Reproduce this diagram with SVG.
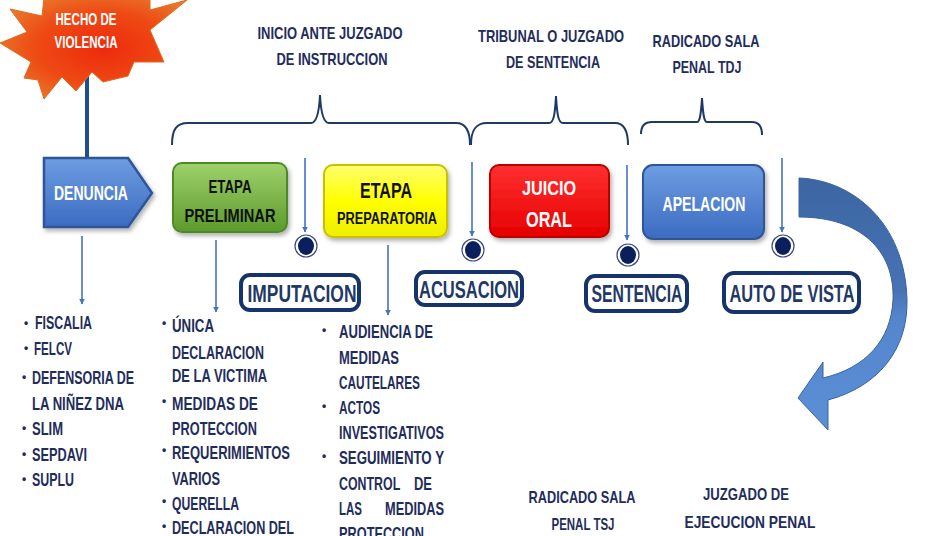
<svg xmlns="http://www.w3.org/2000/svg" width="946" height="536" viewBox="0 0 946 536">
<style>
text{font-family:"Liberation Sans Narrow","Liberation Sans",Arial,sans-serif;font-weight:bold}
.hd{font-size:17px;fill:#1f2d5c}
.li{font-size:18px;fill:#1f2d5c}
.bu{font-size:12px;fill:#1f2d5c}
.wt{fill:#ffffff}
.bk{fill:#111111}
.lb{font-size:24px;fill:#1f3864}
.lbox{fill:#ffffff;stroke:#17336b;stroke-width:4}
.brace{fill:none;stroke:#1f3864;stroke-width:2}
.thin{stroke:#4472c4;stroke-width:1.6;fill:none}
.ring{fill:#ffffff;stroke:#3b4a7a;stroke-width:1.2}
.dot{fill:#0b1f5c}
</style>
<defs>
<radialGradient id="gStar" cx="0.55" cy="0.5" r="0.6">
<stop offset="0" stop-color="#ee2a0c"/><stop offset="0.6" stop-color="#ee4a14"/><stop offset="1" stop-color="#e9782a"/>
</radialGradient>
<linearGradient id="gBlue" x1="0" y1="0" x2="0" y2="1"><stop offset="0" stop-color="#6e9de2"/><stop offset="1" stop-color="#3c6bc0"/></linearGradient>
<linearGradient id="gGreen" x1="0" y1="0" x2="0" y2="1"><stop offset="0" stop-color="#9fd16c"/><stop offset="1" stop-color="#5c9a2c"/></linearGradient>
<linearGradient id="gYellow" x1="0" y1="0" x2="0" y2="1"><stop offset="0" stop-color="#ffff70"/><stop offset="0.5" stop-color="#ffff00"/><stop offset="1" stop-color="#eeee00"/></linearGradient>
<linearGradient id="gRed" x1="0" y1="0" x2="0" y2="1"><stop offset="0" stop-color="#ff3030"/><stop offset="1" stop-color="#e60000"/></linearGradient>
<linearGradient id="gArc" x1="0" y1="0" x2="0" y2="1"><stop offset="0" stop-color="#3c66a2"/><stop offset="0.45" stop-color="#4673b4"/><stop offset="0.55" stop-color="#5486cc"/><stop offset="1" stop-color="#5a8fd6"/></linearGradient>
<filter id="sh" x="-10%" y="-10%" width="130%" height="140%"><feDropShadow dx="2" dy="3" stdDeviation="2" flood-color="#000" flood-opacity="0.3"/></filter>
<marker id="ah" viewBox="0 0 10 10" refX="9" refY="5" markerWidth="6" markerHeight="6" orient="auto" markerUnits="userSpaceOnUse"><path d="M0,0 L10,5 L0,10 z" fill="#4472c4"/></marker>
</defs>

<g id="connectors">
<line x1="87" y1="72" x2="87" y2="158" stroke="#1f4e8c" stroke-width="4"/>
<line class="thin" x1="82" y1="236" x2="82" y2="304" marker-end="url(#ah)"/>
<line class="thin" x1="216" y1="240" x2="216" y2="312" marker-end="url(#ah)"/>
<line class="thin" x1="388" y1="245" x2="388" y2="315" marker-end="url(#ah)"/>
<line class="thin" x1="305" y1="158" x2="305" y2="232" marker-end="url(#ah)"/>
<line class="thin" x1="472" y1="162" x2="472" y2="236" marker-end="url(#ah)"/>
<line class="thin" x1="627" y1="165" x2="627" y2="240" marker-end="url(#ah)"/>
<line class="thin" x1="782" y1="158" x2="782" y2="232" marker-end="url(#ah)"/>
<path class="brace" d="M172,145 C172,130 176,123 188,123 L311,123 C316,123 319,115 320,95 C321,115 324,123 329,123 L456,123 C466,123 470,132 470,145"/>
<path class="brace" d="M471,145 C471,131 475,123 487,123 L549,123 C554,123 555,113 556,96 C557,113 558,123 563,123 L615,123 C624,123 628,131 628,145"/>
<path class="brace" d="M641,134 C641,127 644,122 652,122 L697,122 C700,122 701,114 702,98 C703,114 704,122 707,122 L752,122 C759,122 762,127 762,135"/>
<path d="M799,178 C852,180 905,222 907,300 C908,348 880,386 828,400 L828,430 L798,398 L823,362 L823,378 C866,368 891,340 893,300 C895,250 860,217 799,217 Z" fill="url(#gArc)" stroke="#3a62a0" stroke-width="1"/>
</g>

<g id="dots">
<circle class="ring" cx="306" cy="246" r="11"/><ellipse class="dot" cx="306" cy="246" rx="8" ry="9"/>
<circle class="ring" cx="473" cy="250" r="11"/><ellipse class="dot" cx="473" cy="250" rx="8" ry="9"/>
<circle class="ring" cx="628" cy="255" r="11"/><ellipse class="dot" cx="628" cy="255" rx="8" ry="9"/>
<circle class="ring" cx="783" cy="246" r="11"/><ellipse class="dot" cx="783" cy="246" rx="8" ry="9"/>
</g>

<g id="hecho">
<polygon points="0,43 27,32 10,9 42,16 44,-2 150,-2 150,10 187,0 150,30 164,62 134,62 128,76 103,82 92,72 76,91 62,77 44,99 38,80 24,78 31,62" fill="url(#gStar)" stroke="#e06a20" stroke-width="1"/>
<text class="wt" x="86" y="25" text-anchor="middle" font-size="16.5" textLength="61" lengthAdjust="spacingAndGlyphs">HECHO DE</text>
<text class="wt" x="86" y="48" text-anchor="middle" font-size="16.5" textLength="63" lengthAdjust="spacingAndGlyphs">VIOLENCIA</text>
</g>

<g id="denuncia">
<polygon points="44,158 128,158 152,193 128,227 44,227" fill="url(#gBlue)" stroke="#2f5597" stroke-width="2.5" filter="url(#sh)"/>
<text class="wt" x="91" y="200" text-anchor="middle" font-size="20.5" textLength="74" lengthAdjust="spacingAndGlyphs">DENUNCIA</text>
</g>

<g id="preliminar">
<rect x="173" y="163" width="114" height="69" rx="9" fill="url(#gGreen)" stroke="#4e8a25" stroke-width="2" filter="url(#sh)"/>
<text class="bk" x="230" y="193" text-anchor="middle" font-size="17.5" textLength="43" lengthAdjust="spacingAndGlyphs">ETAPA</text>
<text class="bk" x="230" y="222" text-anchor="middle" font-size="17.5" textLength="91" lengthAdjust="spacingAndGlyphs">PRELIMINAR</text>
</g>

<g id="preparatoria">
<rect x="324" y="165" width="123" height="72" rx="9" fill="url(#gYellow)" stroke="#c8c000" stroke-width="2" filter="url(#sh)"/>
<text class="bk" x="386" y="198" text-anchor="middle" font-size="22.5" textLength="52" lengthAdjust="spacingAndGlyphs">ETAPA</text>
<text class="bk" x="387" y="224" text-anchor="middle" font-size="16" textLength="100" lengthAdjust="spacingAndGlyphs">PREPARATORIA</text>
</g>

<g id="juicio">
<rect x="490" y="165" width="119" height="72" rx="9" fill="url(#gRed)" stroke="#b80000" stroke-width="2" filter="url(#sh)"/>
<text class="wt" x="549" y="195" text-anchor="middle" font-size="20.5" textLength="54" lengthAdjust="spacingAndGlyphs">JUICIO</text>
<text class="wt" x="549" y="227" text-anchor="middle" font-size="21.5" textLength="46" lengthAdjust="spacingAndGlyphs">ORAL</text>
</g>

<g id="apelacion">
<rect x="643" y="165" width="121" height="74" rx="10" fill="url(#gBlue)" stroke="#2f5597" stroke-width="2" filter="url(#sh)"/>
<text class="wt" x="704" y="211" text-anchor="middle" font-size="20.5" textLength="83" lengthAdjust="spacingAndGlyphs">APELACION</text>
</g>

<g id="imputacion">
<rect class="lbox" x="241" y="275" width="118" height="35" rx="9"/>
<text class="lb" x="302" y="302" text-anchor="middle" textLength="109" lengthAdjust="spacingAndGlyphs">IMPUTACION</text>
</g>
<g id="acusacion">
<rect class="lbox" x="416" y="272" width="106" height="33" rx="9"/>
<text class="lb" x="469" y="298" text-anchor="middle" textLength="100" lengthAdjust="spacingAndGlyphs">ACUSACION</text>
</g>
<g id="sentencia">
<rect class="lbox" x="586" y="276" width="101" height="35" rx="9"/>
<text class="lb" x="637" y="302" text-anchor="middle" textLength="91" lengthAdjust="spacingAndGlyphs">SENTENCIA</text>
</g>
<g id="autodevista">
<rect class="lbox" x="724" y="273" width="135" height="39" rx="10"/>
<text class="lb" x="792" y="302" text-anchor="middle" textLength="125" lengthAdjust="spacingAndGlyphs">AUTO DE VISTA</text>
</g>

<g id="headers">
<text class="hd" x="330" y="39" text-anchor="middle" textLength="145" lengthAdjust="spacingAndGlyphs">INICIO ANTE JUZGADO</text>
<text class="hd" x="332" y="65" text-anchor="middle" textLength="111" lengthAdjust="spacingAndGlyphs">DE INSTRUCCION</text>
<text class="hd" x="551" y="42" text-anchor="middle" textLength="146" lengthAdjust="spacingAndGlyphs">TRIBUNAL O JUZGADO</text>
<text class="hd" x="553" y="68" text-anchor="middle" textLength="94" lengthAdjust="spacingAndGlyphs">DE SENTENCIA</text>
<text class="hd" x="706" y="47" text-anchor="middle" textLength="107" lengthAdjust="spacingAndGlyphs">RADICADO SALA</text>
<text class="hd" x="707" y="73" text-anchor="middle" textLength="69" lengthAdjust="spacingAndGlyphs">PENAL TDJ</text>
</g>

<g id="lista-denuncia">
<text class="bu" x="24" y="327">•</text><text class="li" x="35" y="329" textLength="57" lengthAdjust="spacingAndGlyphs">FISCALIA</text>
<text class="bu" x="24" y="352">•</text><text class="li" x="34" y="355" textLength="38" lengthAdjust="spacingAndGlyphs">FELCV</text>
<text class="bu" x="22" y="381">•</text><text class="li" x="32" y="384" textLength="102" lengthAdjust="spacingAndGlyphs">DEFENSORIA DE</text>
<text class="li" x="32" y="410" textLength="92" lengthAdjust="spacingAndGlyphs">LA NIÑEZ DNA</text>
<text class="bu" x="22" y="432">•</text><text class="li" x="32" y="435" textLength="31" lengthAdjust="spacingAndGlyphs">SLIM</text>
<text class="bu" x="22" y="458">•</text><text class="li" x="32" y="461" textLength="55" lengthAdjust="spacingAndGlyphs">SEPDAVI</text>
<text class="bu" x="22" y="483">•</text><text class="li" x="32" y="486" textLength="42" lengthAdjust="spacingAndGlyphs">SUPLU</text>
</g>

<g id="lista-preliminar">
<text class="bu" x="162" y="327">•</text><text class="li" x="172" y="332" textLength="42" lengthAdjust="spacingAndGlyphs">ÚNICA</text>
<text class="li" x="172" y="359" textLength="92" lengthAdjust="spacingAndGlyphs">DECLARACION</text>
<text class="li" x="172" y="382" textLength="95" lengthAdjust="spacingAndGlyphs">DE LA VICTIMA</text>
<text class="bu" x="162" y="405">•</text><text class="li" x="172" y="410" textLength="86" lengthAdjust="spacingAndGlyphs">MEDIDAS  DE</text>
<text class="li" x="172" y="435" textLength="85" lengthAdjust="spacingAndGlyphs">PROTECCION</text>
<text class="bu" x="162" y="454">•</text><text class="li" x="172" y="459" textLength="118" lengthAdjust="spacingAndGlyphs">REQUERIMIENTOS</text>
<text class="li" x="172" y="485" textLength="48" lengthAdjust="spacingAndGlyphs">VARIOS</text>
<text class="bu" x="162" y="505">•</text><text class="li" x="172" y="510" textLength="67" lengthAdjust="spacingAndGlyphs">QUERELLA</text>
<text class="bu" x="162" y="530">•</text><text class="li" x="172" y="534" textLength="122" lengthAdjust="spacingAndGlyphs">DECLARACION  DEL</text>
</g>

<g id="lista-preparatoria">
<text class="bu" x="322" y="334">•</text><text class="li" x="339" y="338" textLength="94" lengthAdjust="spacingAndGlyphs">AUDIENCIA DE</text>
<text class="li" x="339" y="364" textLength="60" lengthAdjust="spacingAndGlyphs">MEDIDAS</text>
<text class="li" x="339" y="389" textLength="81" lengthAdjust="spacingAndGlyphs">CAUTELARES</text>
<text class="bu" x="322" y="410">•</text><text class="li" x="339" y="414" textLength="41" lengthAdjust="spacingAndGlyphs">ACTOS</text>
<text class="li" x="339" y="439" textLength="105" lengthAdjust="spacingAndGlyphs">INVESTIGATIVOS</text>
<text class="bu" x="322" y="460">•</text><text class="li" x="339" y="464" textLength="105" lengthAdjust="spacingAndGlyphs">SEGUIMIENTO Y</text>
<text class="li" y="490"><tspan x="339" textLength="61" lengthAdjust="spacingAndGlyphs">CONTROL</tspan> <tspan x="414" textLength="18" lengthAdjust="spacingAndGlyphs">DE</tspan></text>
<text class="li" y="515"><tspan x="339" textLength="23" lengthAdjust="spacingAndGlyphs">LAS</tspan> <tspan x="385" textLength="59" lengthAdjust="spacingAndGlyphs">MEDIDAS</tspan></text>
<text class="li" x="339" y="540" textLength="85" lengthAdjust="spacingAndGlyphs">PROTECCION</text>
</g>

<g id="radicado-tsj">
<text class="hd" x="582" y="503" text-anchor="middle" textLength="107" lengthAdjust="spacingAndGlyphs">RADICADO SALA</text>
<text class="hd" x="583" y="530" text-anchor="middle" textLength="63" lengthAdjust="spacingAndGlyphs">PENAL TSJ</text>
</g>
<g id="ejecucion">
<text class="hd" x="746" y="500" text-anchor="middle" textLength="86" lengthAdjust="spacingAndGlyphs">JUZGADO DE</text>
<text class="hd" x="750" y="528" text-anchor="middle" textLength="131" lengthAdjust="spacingAndGlyphs">EJECUCION PENAL</text>
</g>
</svg>
